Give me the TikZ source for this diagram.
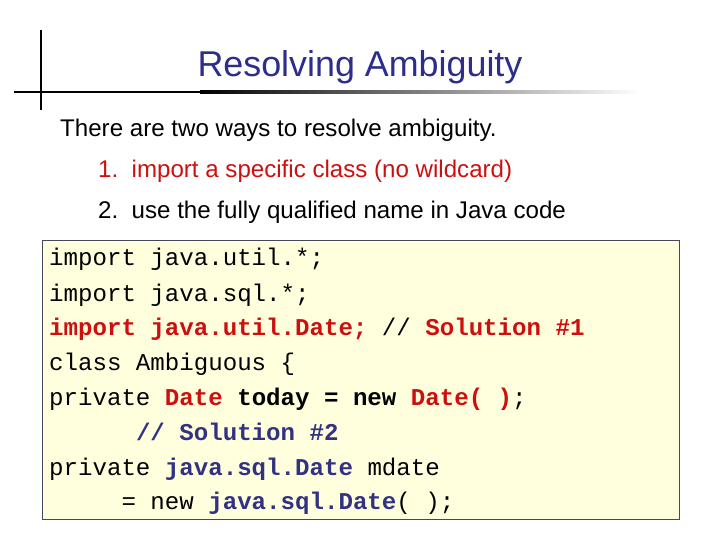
\documentclass[tikz,border=0pt]{standalone}
\usepackage{fontspec}
\setmainfont{Liberation Sans}
\newfontfamily\codefont{Liberation Mono}
\definecolor{tblue}{RGB}{45,45,140}
\definecolor{cred}{RGB}{204,16,16}
\definecolor{cblue}{RGB}{50,50,130}
\definecolor{boxfill}{RGB}{255,255,222}
\definecolor{boxline}{RGB}{70,70,90}
\begin{document}
\begin{tikzpicture}[x=1bp,y=-1bp,
  code/.style={anchor=base west,inner sep=0,font=\codefont\fontsize{24.2}{24}\selectfont},
  body/.style={anchor=base west,inner sep=0,font=\fontsize{24.2}{28}\selectfont}]
\useasboundingbox (0,0) rectangle (720,540);
\fill[black] (14,91) rectangle (200,93.5);
\shade[left color=black,right color=white] (200,91) rectangle (640,93.5);
\draw[line width=2.5pt] (41,30) -- (41,110);
\node[anchor=base,inner sep=0,text=tblue,font=\fontsize{36}{40}\selectfont] (title) at (360,77) {Resolving Ambiguity};
\node[body] (intro) at (60,137) {There are two ways to resolve ambiguity.};
\node[body,text=cred] (i1) at (98,178) {1.\ \ import a specific class (no wildcard)};
\node[body] (i2) at (98,219) {2.\ \ use the fully qualified name in Java code};
\draw[boxline,fill=boxfill,line width=1pt] (42,240) rectangle (679,519);
\node[code] (c1) at (49,266) {import java.util.*;};
\node[code] (c2) at (49,301) {import java.sql.*;};
\node[code] (c3) at (49,335) {\textcolor{cred}{\bfseries import java.util.Date;} // \textcolor{cred}{\bfseries Solution \#1}};
\node[code] (c4) at (49,370) {class Ambiguous \{};
\node[code] (c5) at (49,405) {private \textcolor{cred}{\bfseries Date} \textbf{today = new} \textcolor{cred}{\bfseries Date( )};};
\node[code,text=cblue] (c6) at (49,440) {\phantom{xxxxxx}\bfseries // Solution \#2};
\node[code] (c7) at (49,475) {private \textcolor{cblue}{\bfseries java.sql.Date} mdate};
\node[code] (c8) at (49,509) {\phantom{xxxxx}= new \textcolor{cblue}{\bfseries java.sql.Date}( );};
\end{tikzpicture}
\end{document}
